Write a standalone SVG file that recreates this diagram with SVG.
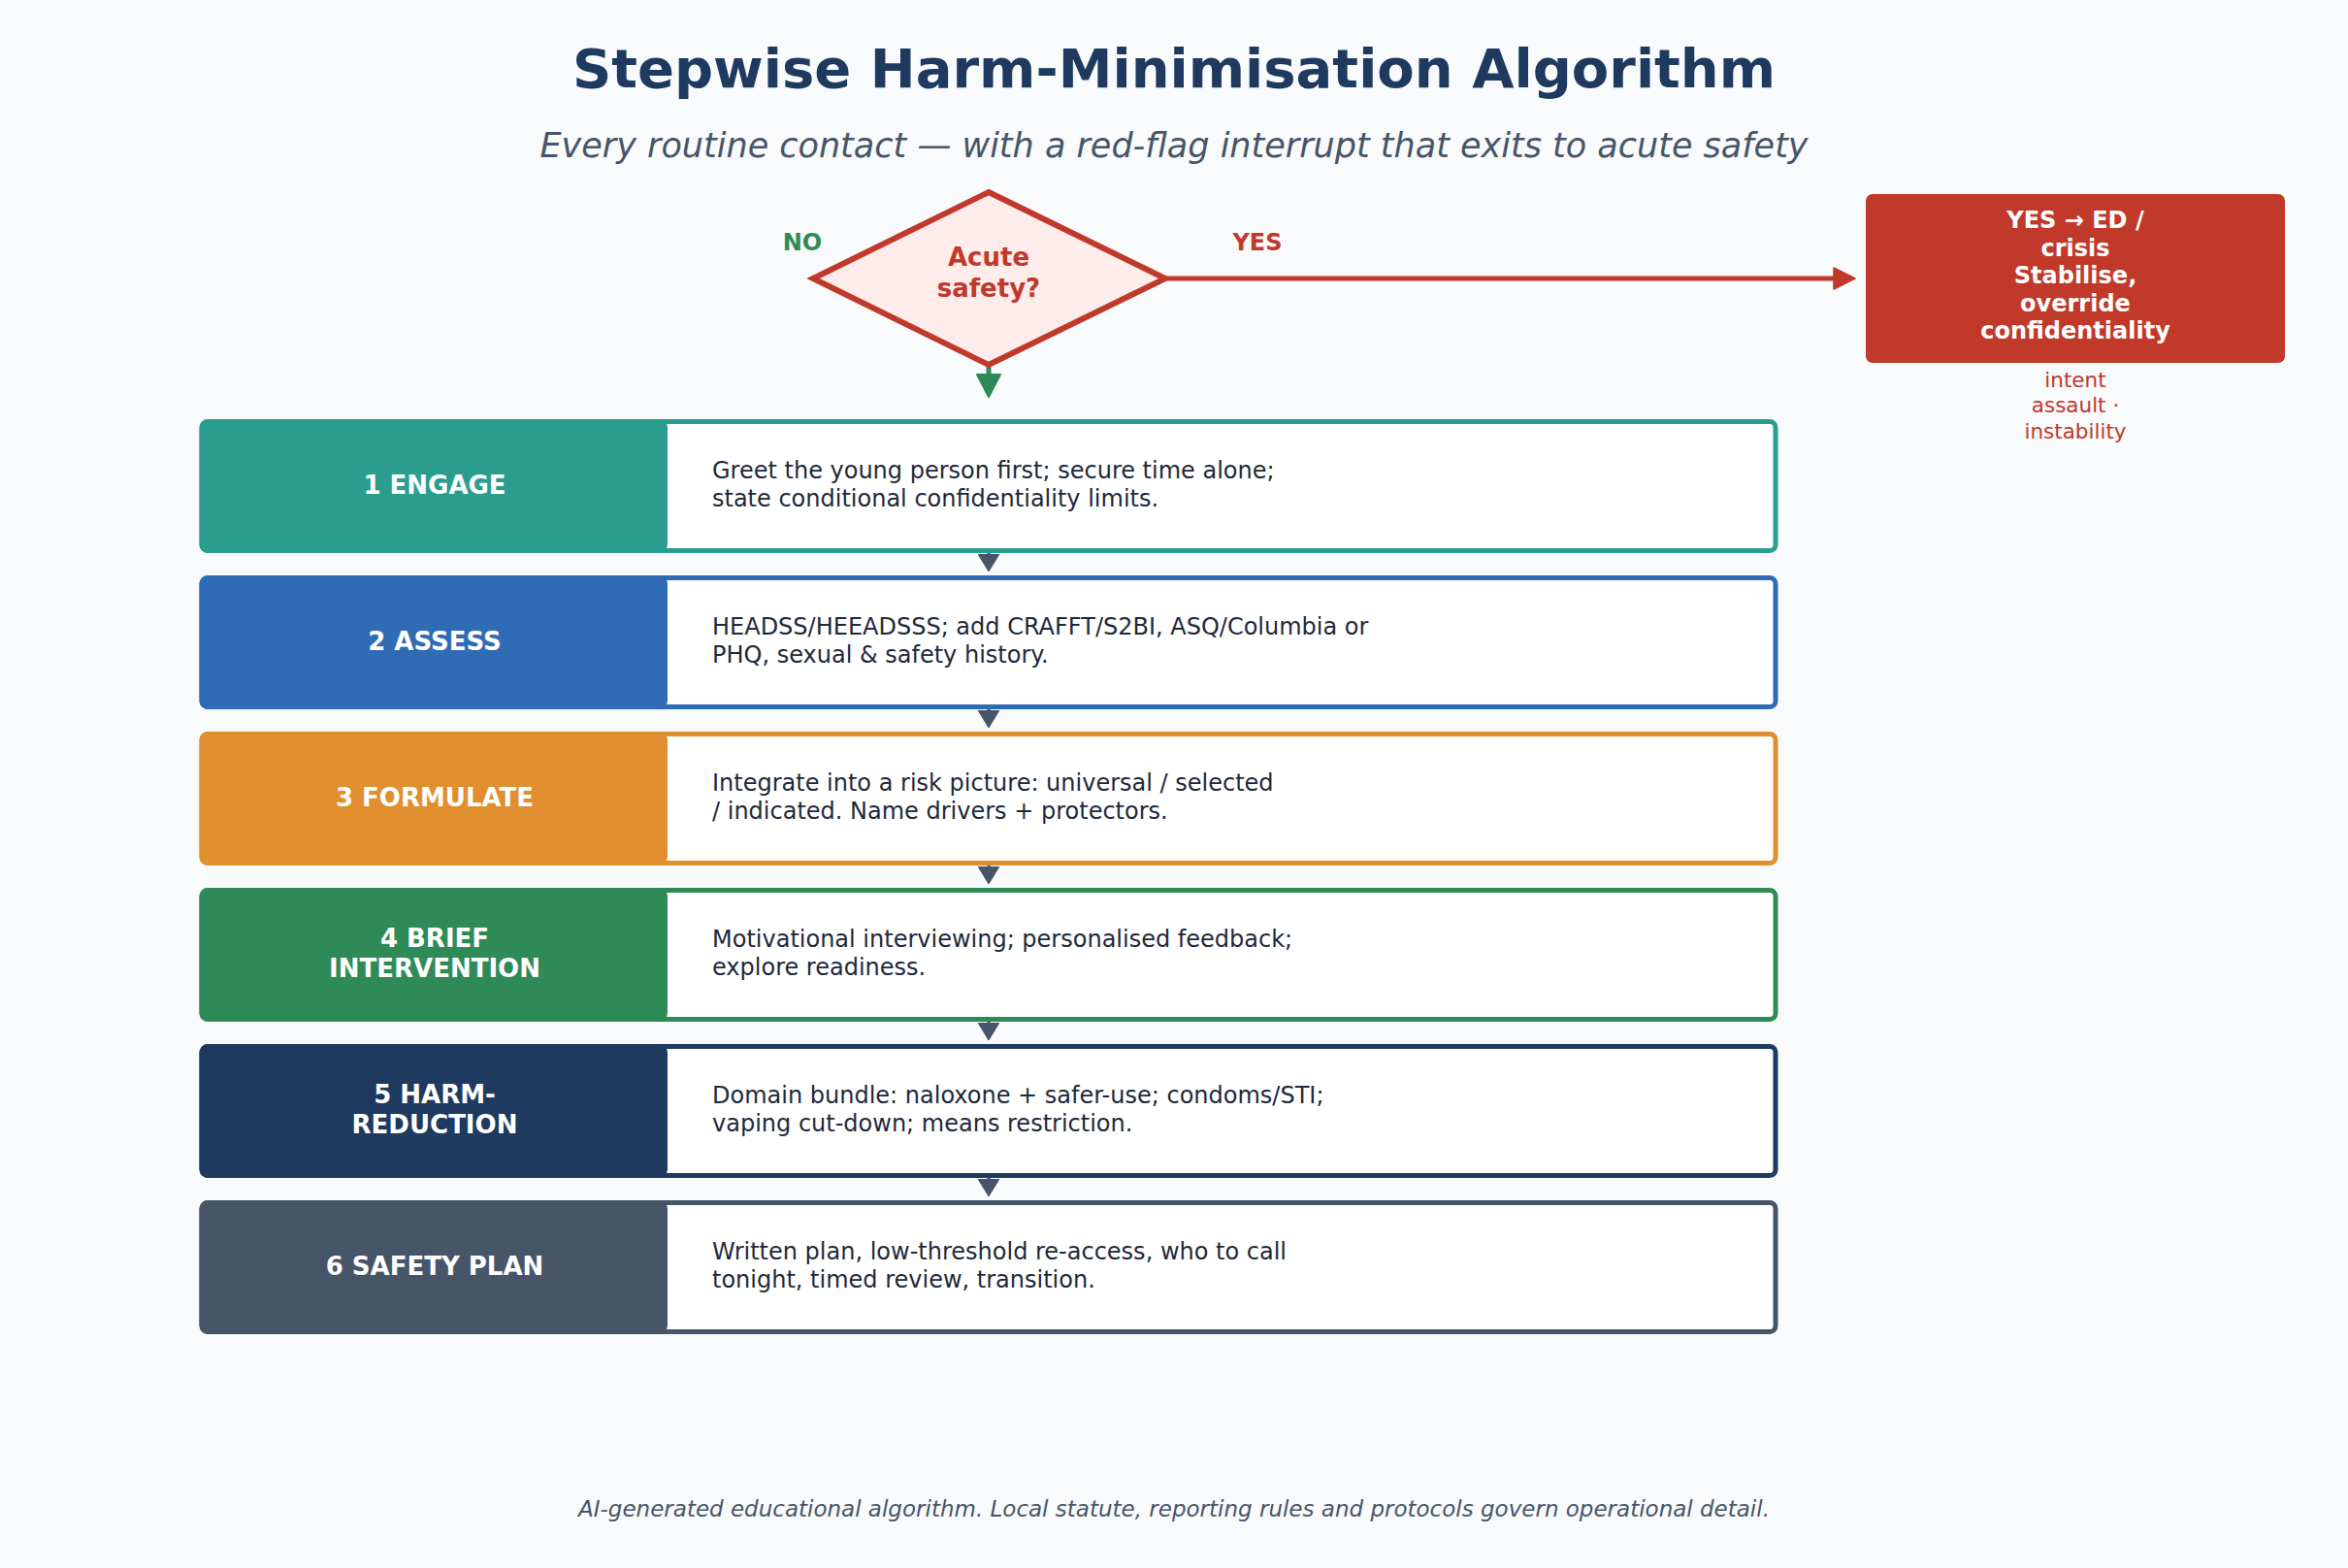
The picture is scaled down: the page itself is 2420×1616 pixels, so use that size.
<svg xmlns="http://www.w3.org/2000/svg" width="2420" height="1616" viewBox="0 0 2420 1616">
<style>
text{font-family:"DejaVu Sans","Liberation Sans",sans-serif}
.title{font-size:56px;font-weight:bold;fill:#1f3a5f;text-anchor:middle}
.sub{font-size:35px;font-style:italic;fill:#475569;text-anchor:middle}
.foot{font-size:23px;font-style:italic;fill:#475569;text-anchor:middle}
.lbl{font-size:26px;font-weight:bold;fill:#ffffff;text-anchor:middle}
.desc{font-size:24px;fill:#1e293b}
.box{fill:#ffffff;stroke-width:5}
.dq{font-size:26px;font-weight:bold;fill:#c0392b;text-anchor:middle}
.yn{font-size:24px;font-weight:bold;text-anchor:middle}
.crit{font-size:24px;font-weight:bold;fill:#ffffff;text-anchor:middle}
.note{font-size:21.5px;fill:#c0392b;text-anchor:middle}
.step{stroke:#475569;stroke-width:3;fill:none}
</style>
<defs>
<marker id="arrRed" markerUnits="userSpaceOnUse" markerWidth="24" markerHeight="24" viewBox="0 0 24 24" refX="4" refY="12" orient="auto">
<path d="M1,1 L23,12 L1,23 Z" fill="#c0392b" stroke="#c0392b" stroke-width="1.5" stroke-linejoin="round"/>
</marker>
<marker id="arrGreen" markerUnits="userSpaceOnUse" markerWidth="26" markerHeight="26" viewBox="0 0 26 26" refX="3" refY="13" orient="auto">
<path d="M1,1 L24,13 L1,25 Z" fill="#2e8b57" stroke="#2e8b57" stroke-width="2" stroke-linejoin="round"/>
</marker>
<marker id="arrSlate" markerUnits="userSpaceOnUse" markerWidth="20" markerHeight="22" viewBox="0 0 20 22" refX="0" refY="11" orient="auto">
<path d="M0,0 L18,11 L0,22 Z" fill="#475569" stroke="#475569" stroke-width="1" stroke-linejoin="round"/>
</marker>
</defs>
<rect x="0" y="0" width="2420" height="1616" fill="#f8fafc"/>
<text class="title" x="1210" y="90">Stepwise Harm-Minimisation Algorithm</text>
<text class="sub" x="1210" y="162">Every routine contact — with a red-flag interrupt that exits to acute safety</text>

<g id="connectors">
<path d="M1202,287 H1893" stroke="#c0392b" stroke-width="5" fill="none" marker-end="url(#arrRed)"/>
<path d="M1019,376 V388" stroke="#2e8b57" stroke-width="5" fill="none" marker-end="url(#arrGreen)"/>
<path class="step" d="M1019,566 V571" marker-end="url(#arrSlate)"/>
<path class="step" d="M1019,727 V732" marker-end="url(#arrSlate)"/>
<path class="step" d="M1019,888 V893" marker-end="url(#arrSlate)"/>
<path class="step" d="M1019,1049 V1054" marker-end="url(#arrSlate)"/>
<path class="step" d="M1019,1210 V1215" marker-end="url(#arrSlate)"/>
</g>

<g id="decision">
<polygon points="1019,198 1201,287 1019,376 838,287" fill="#fdecea" stroke="#c0392b" stroke-width="6" stroke-linejoin="miter"/>
<text class="dq" x="1019" y="274">Acute</text>
<text class="dq" x="1019" y="306">safety?</text>
<text class="yn" x="827" y="258" fill="#2e8b57">NO</text>
<text class="yn" x="1296" y="258" fill="#c0392b">YES</text>
</g>

<g id="crisis">
<rect x="1923" y="200" width="432" height="174" rx="7" fill="#c0392b"/>
<text class="crit" x="2139" y="235">YES → ED /</text>
<text class="crit" x="2139" y="264">crisis</text>
<text class="crit" x="2139" y="292">Stabilise,</text>
<text class="crit" x="2139" y="321">override</text>
<text class="crit" x="2139" y="349">confidentiality</text>
<text class="note" x="2139" y="399">intent</text>
<text class="note" x="2139" y="425">assault ·</text>
<text class="note" x="2139" y="452">instability</text>
</g>

<g id="step1">
<rect class="box" x="208" y="434.5" width="1622" height="133" rx="6" stroke="#2a9d8f"/>
<rect x="205.5" y="432" width="482.5" height="138" rx="9" fill="#2a9d8f"/>
<text class="lbl" x="448" y="509">1 ENGAGE</text>
<text class="desc" x="734" y="493">Greet the young person first; secure time alone;</text>
<text class="desc" x="734" y="522">state conditional confidentiality limits.</text>
</g>
<g id="step2">
<rect class="box" x="208" y="595.5" width="1622" height="133" rx="6" stroke="#2f6cb5"/>
<rect x="205.5" y="593" width="482.5" height="138" rx="9" fill="#2f6cb5"/>
<text class="lbl" x="448" y="670">2 ASSESS</text>
<text class="desc" x="734" y="654">HEADSS/HEEADSSS; add CRAFFT/S2BI, ASQ/Columbia or</text>
<text class="desc" x="734" y="683">PHQ, sexual &amp; safety history.</text>
</g>
<g id="step3">
<rect class="box" x="208" y="756.5" width="1622" height="133" rx="6" stroke="#e08e2e"/>
<rect x="205.5" y="754" width="482.5" height="138" rx="9" fill="#e08e2e"/>
<text class="lbl" x="448" y="831">3 FORMULATE</text>
<text class="desc" x="734" y="815">Integrate into a risk picture: universal / selected</text>
<text class="desc" x="734" y="844">/ indicated. Name drivers + protectors.</text>
</g>
<g id="step4">
<rect class="box" x="208" y="917.5" width="1622" height="133" rx="6" stroke="#2e8b57"/>
<rect x="205.5" y="915" width="482.5" height="138" rx="9" fill="#2e8b57"/>
<text class="lbl" x="448" y="976">4 BRIEF</text>
<text class="lbl" x="448" y="1007">INTERVENTION</text>
<text class="desc" x="734" y="976">Motivational interviewing; personalised feedback;</text>
<text class="desc" x="734" y="1005">explore readiness.</text>
</g>
<g id="step5">
<rect class="box" x="208" y="1078.5" width="1622" height="133" rx="6" stroke="#1f3a5f"/>
<rect x="205.5" y="1076" width="482.5" height="138" rx="9" fill="#1f3a5f"/>
<text class="lbl" x="448" y="1137">5 HARM-</text>
<text class="lbl" x="448" y="1168">REDUCTION</text>
<text class="desc" x="734" y="1137">Domain bundle: naloxone + safer-use; condoms/STI;</text>
<text class="desc" x="734" y="1166">vaping cut-down; means restriction.</text>
</g>
<g id="step6">
<rect class="box" x="208" y="1239.5" width="1622" height="133" rx="6" stroke="#475569"/>
<rect x="205.5" y="1237" width="482.5" height="138" rx="9" fill="#475569"/>
<text class="lbl" x="448" y="1314">6 SAFETY PLAN</text>
<text class="desc" x="734" y="1298">Written plan, low-threshold re-access, who to call</text>
<text class="desc" x="734" y="1327">tonight, timed review, transition.</text>
</g>

<text class="foot" x="1210" y="1563">AI-generated educational algorithm. Local statute, reporting rules and protocols govern operational detail.</text>
</svg>
